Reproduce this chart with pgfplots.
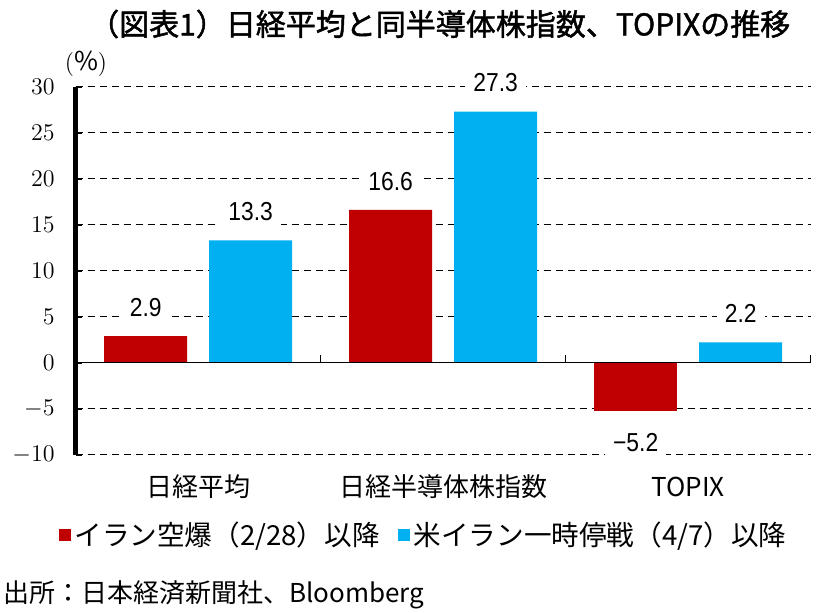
\documentclass[border=0pt]{standalone}
\usepackage{pgfplots}
\pgfplotsset{compat=1.18}
\usepackage{fontspec}
\setmainfont{Noto Sans CJK JP}
\newfontfamily\titlefont[FakeBold=1.5]{Noto Sans CJK JP}
\newfontfamily\labfont[FakeStretch=0.88]{Liberation Sans}
\definecolor{myred}{HTML}{C00000}
\definecolor{myblue}{HTML}{00B0F0}
\newcommand{\jp}{\fontsize{13pt}{15pt}\selectfont}
\begin{document}
\begin{tikzpicture}
\begin{axis}[
  at={(0,0)}, anchor=south west,
  scale only axis,
  width=367.5pt, height=184pt,
  xmin=-0.5, xmax=2.5,
  ymin=-10, ymax=30,
  clip=false,
  axis y line*=left,
  axis x line*=bottom,
  x axis line style={draw=none},
  y axis line style={line width=2.4pt},
  xtick={0,1,2},
  xticklabels={日経平均,日経半導体株指数,TOPIX},
  xtick style={draw=none},
  xticklabel style={font=\jp, anchor=center, yshift=-16pt},
  ytick={-10,-5,...,30},
  ytick style={line width=1.2pt, black},
  major tick length=3pt,
  tick align=inside,
  yticklabel style={font=\fontsize{13pt}{15pt}\selectfont, xshift=-7pt},
  ymajorgrids,
  major grid style={black, line width=0.5pt, dash pattern=on 3.5pt off 2.5pt},
  legend style={at={(0.4745,-0.218)}, anchor=center, draw=none, fill=none,
    font=\fontsize{13.8pt}{15pt}\selectfont, inner sep=0pt,
    /tikz/every even column/.append style={column sep=7pt}},
  legend columns=2,
  legend cell align=left,
  nodes near coords style={font=\labfont\fontsize{13pt}{15pt}\selectfont,
    fill=white, inner xsep=4pt, inner ysep=2pt},
]
\addplot[ybar, bar width=41.5pt, bar shift=-26.25pt, fill=myred, draw=none,
  nodes near coords, point meta=explicit symbolic,
  every node near coord/.append style={anchor=south, outer ysep=7.75pt, xshift=-26.25pt},
  legend image code/.code={\fill[myred] (0pt,-3pt) rectangle (6pt,3pt);}]
  coordinates {(0,2.9) [2.9] (1,16.6) [16.6]};
\addlegendentry{イラン空爆（2/28）以降}
\addplot[ybar, bar width=41.5pt, bar shift=26.25pt, fill=myblue, draw=none,
  nodes near coords, point meta=explicit symbolic,
  every node near coord/.append style={anchor=south, outer ysep=7.75pt, xshift=26.25pt},
  legend image code/.code={\fill[myblue] (0pt,-3pt) rectangle (6pt,3pt);}]
  coordinates {(0,13.3) [13.3] (1,27.3) [27.3] (2,2.2) [2.2]};
\addlegendentry{米イラン一時停戦（4/7）以降}
\addplot[ybar, bar width=41.5pt, bar shift=-26.25pt, fill=myred, draw=none,
  forget plot,
  nodes near coords, point meta=explicit symbolic,
  every node near coord/.append style={anchor=north, outer ysep=9.5pt, xshift=-26.25pt}]
  coordinates {(2,-5.2) [−5.2]};
% zero line with category separators
\draw[line width=0.75pt] (axis cs:-0.5,0) -- (axis cs:2.5,0);
\draw[line width=0.75pt] (axis cs:0.5,0) -- ++(0pt,3.8pt);
\draw[line width=0.75pt] (axis cs:1.5,0) -- ++(0pt,3.8pt);
\draw[line width=0.75pt] (axis cs:2.5,0) -- ++(0pt,3.8pt);
\end{axis}
\node at (182pt,215.35pt) {\titlefont\fontsize{15pt}{18pt}\selectfont （図表1）日経平均と同半導体株指数、TOPIXの推移};
\node at (5.15pt,195.35pt) {\fontsize{13pt}{15pt}\selectfont $(\%)$};
\node[anchor=west, inner sep=0pt] at (-36.35pt,-70.15pt) {\jp 出所：日本経済新聞社、Bloomberg};
\pgfresetboundingbox
\path (-37.85pt,-78.65pt) rectangle (370.65pt,227.35pt);
\end{tikzpicture}
\end{document}
